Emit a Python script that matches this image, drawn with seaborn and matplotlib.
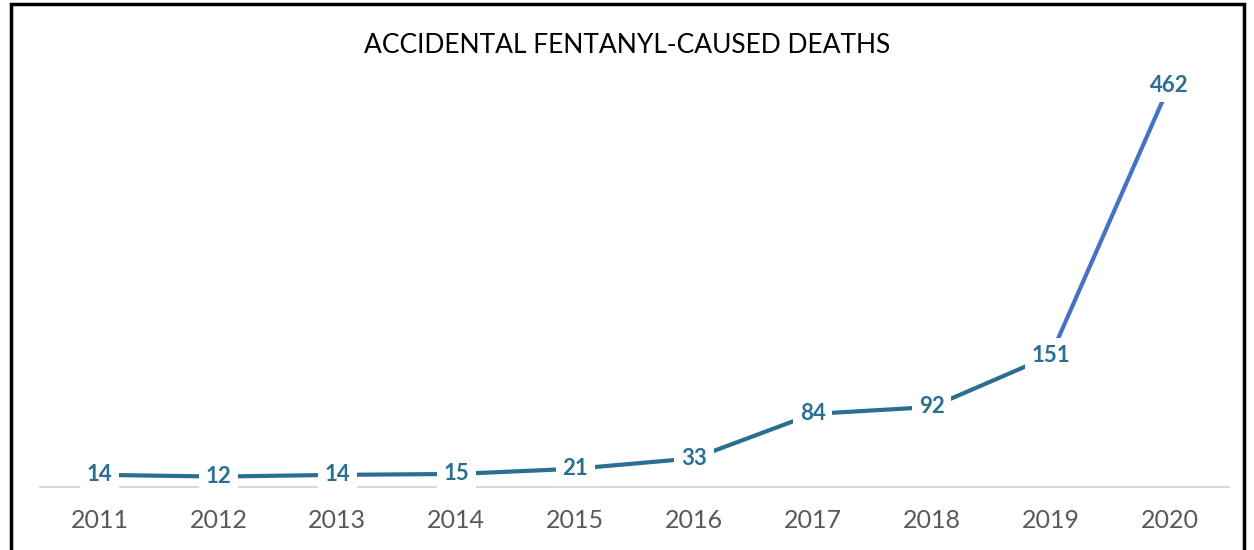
import matplotlib.pyplot as plt
import seaborn as sns
import pandas as pd

sns.set_style("white")
plt.rcParams['font.family'] = ['Lato', 'DejaVu Sans']

# data
years = [2011, 2012, 2013, 2014, 2015, 2016, 2017, 2018, 2019, 2020]
deaths = [14, 12, 14, 15, 21, 33, 84, 92, 151, 462]

df = pd.DataFrame({"Year": years, "Deaths": deaths})

teal = "#2A6E92"
blue = "#4472C4"

fig = plt.figure(figsize=(12.54, 5.5), dpi=100)
ax = fig.add_axes([0.032, 0.1145, 0.948, 0.791])

# line up to 2019 in teal, last jump in blue
sns.lineplot(data=df.iloc[:9], x="Year", y="Deaths", color=teal, linewidth=3, ax=ax)
sns.lineplot(data=df.iloc[8:], x="Year", y="Deaths", color=blue, linewidth=3, ax=ax)

for x, y in zip(years, deaths):
    ax.text(x, y, str(y), ha="center", va="center", fontsize=16, fontweight="bold",
            color=teal, zorder=5,
            bbox=dict(boxstyle="square,pad=0.3", fc="white", ec="none"))

ax.set_xlim(2010.5, 2020.5)
ax.set_ylim(0, 500)
ax.set_xticks(years)
ax.set_xticklabels([str(y) for y in years], fontsize=18, color="#595959")
ax.set_yticks([])
ax.set_xlabel("")
ax.set_ylabel("")
ax.tick_params(axis="x", length=0, pad=16)
for s in ["top", "right", "left"]:
    ax.spines[s].set_visible(False)
ax.spines["bottom"].set_color("#D9D9D9")
ax.spines["bottom"].set_linewidth(1.5)

fig.text(0.5, 0.918, "ACCIDENTAL FENTANYL-CAUSED DEATHS", ha="center", va="center",
         fontsize=19, color="#000000")

# chart border
border = plt.Rectangle((0.009, -0.01), 0.983, 1.003, transform=fig.transFigure,
                       fill=False, ec="black", lw=2.5)
fig.patches.append(border)

fig.savefig("out.png", dpi=100)
